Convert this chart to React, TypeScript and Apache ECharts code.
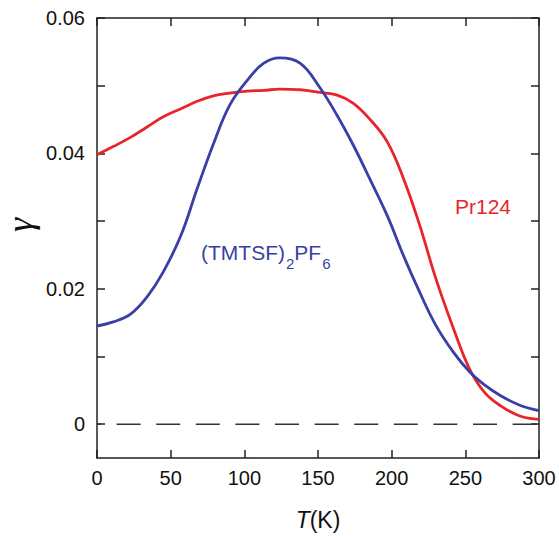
import React, { useEffect, useRef } from "react";
import * as echarts from "echarts";

// Temperature readings (K)
const temperature = [0, 11, 23, 34, 45, 57, 68, 79, 90, 102, 113, 124, 138, 151, 163, 174, 185, 197, 208, 219, 230, 242, 253, 263, 274, 287, 300];
// (TMTSF)2PF6
const tmtsfGamma = [0.0145, 0.0151, 0.0163, 0.0188, 0.0225, 0.0279, 0.0348, 0.0414, 0.0471, 0.0508, 0.0533, 0.0541, 0.0533, 0.0498, 0.0456, 0.0412, 0.0363, 0.0308, 0.0249, 0.0195, 0.0146, 0.0106, 0.0077, 0.0058, 0.0042, 0.0028, 0.002];
// Pr124
const prGamma = [0.0398, 0.041, 0.0424, 0.0439, 0.0454, 0.0466, 0.0477, 0.0485, 0.0489, 0.0492, 0.0493, 0.0495, 0.0494, 0.049, 0.0486, 0.0474, 0.0451, 0.0417, 0.0363, 0.0294, 0.0215, 0.0141, 0.0081, 0.0047, 0.0027, 0.0012, 0.0007];
// Axis ticks
const xTicks = [0, 50, 100, 150, 200, 250, 300];
const yTicks = [0, 0.01, 0.02, 0.03, 0.04, 0.05, 0.06];
const yLabels = [0, 0.02, 0.04, 0.06];
const zeroLine = [0, 300];

const BLUE = "#3a3fa6";
const RED = "#e8252b";
const AXIS = "#222";
const FONT = "'Liberation Sans', Arial, sans-serif";

export default function App() {
  const ref = useRef<HTMLDivElement>(null);
  useEffect(() => {
    if (!ref.current) return;
    const chart = echarts.init(ref.current, null, { renderer: "svg" });
    const tickStyle = { show: true, inside: true, length: 8, lineStyle: { color: AXIS, width: 1.5 } };
    const lineStyle = { show: true, onZero: false, lineStyle: { color: AXIS, width: 1.5 } };
    chart.setOption({
      animation: false,
      backgroundColor: "#fff",
      grid: { left: 97, right: 20, top: 18, bottom: 77, containLabel: false },
      xAxis: [
        {
          type: "value",
          min: 0,
          max: 300,
          interval: 50,
          position: "bottom",
          axisLine: lineStyle,
          axisTick: { ...tickStyle, customValues: xTicks },
          splitLine: { show: false },
          axisLabel: { customValues: xTicks, color: "#111", fontSize: 20, fontFamily: FONT, margin: 10 },
          name: "{i|T}(K)",
          nameLocation: "middle",
          nameGap: 50,
          nameTextStyle: {
            color: "#111",
            fontSize: 23,
            fontFamily: FONT,
            rich: { i: { fontStyle: "italic", fontSize: 23, fontFamily: FONT, color: "#111" } },
          },
        },
        {
          type: "value",
          min: 0,
          max: 300,
          interval: 50,
          position: "top",
          axisLine: lineStyle,
          axisTick: { ...tickStyle, customValues: xTicks },
          axisLabel: { show: false },
          splitLine: { show: false },
        },
      ],
      yAxis: [
        {
          type: "value",
          min: -0.005,
          max: 0.06,
          position: "left",
          axisLine: lineStyle,
          axisTick: { ...tickStyle, customValues: yTicks },
          splitLine: { show: false },
          axisLabel: {
            customValues: yLabels,
            color: "#111",
            fontSize: 20,
            fontFamily: FONT,
            margin: 12,
            formatter: (v: number) => (v === 0 ? "0" : v.toFixed(2)),
          },
        },
        {
          type: "value",
          min: -0.005,
          max: 0.06,
          position: "right",
          axisLine: lineStyle,
          axisTick: { ...tickStyle, customValues: yTicks },
          axisLabel: { show: false },
          splitLine: { show: false },
        },
      ],
      series: [
        {
          type: "line",
          name: "zero",
          data: zeroLine.map((t) => [t, 0]),
          symbol: "none",
          lineStyle: { color: "#333", width: 1.5, type: [24, 15.6], dashOffset: 19.9 },
          z: 1,
        },
        {
          type: "line",
          name: "(TMTSF)2PF6",
          data: temperature.map((t, i) => [t, tmtsfGamma[i]]),
          smooth: 0.4,
          symbol: "none",
          lineStyle: { color: BLUE, width: 2.8 },
          z: 3,
        },
        {
          type: "line",
          name: "Pr124",
          data: temperature.map((t, i) => [t, prGamma[i]]),
          smooth: 0.4,
          symbol: "none",
          lineStyle: { color: RED, width: 2.8 },
          z: 2,
        },
      ],
      graphic: [
        {
          type: "text",
          x: 20,
          y: 225,
          rotation: Math.PI / 2,
          style: {
            text: "γ",
            font: "italic 36px 'Liberation Serif', 'Times New Roman', serif",
            fill: "#111",
            textAlign: "center",
            textVerticalAlign: "middle",
          },
        },
        {
          type: "text",
          x: 455,
          y: 206,
          style: {
            text: "Pr124",
            fontSize: 21,
            fontFamily: FONT,
            fill: RED,
            textAlign: "left",
            textVerticalAlign: "middle",
          },
        },
        {
          type: "text",
          x: 201,
          y: 252,
          style: {
            text: "{m|(TMTSF)}{s|2}{m|PF}{s|6}",
            fill: BLUE,
            textAlign: "left",
            textVerticalAlign: "middle",
            rich: {
              m: { fontSize: 21, fontFamily: FONT, fill: BLUE, lineHeight: 24 },
              s: { fontSize: 15, fontFamily: FONT, fill: BLUE, padding: [22, 0, 0, 1] },
            },
          },
        },
      ],
    });
    return () => chart.dispose();
  }, []);
  return <div ref={ref} style={{ position: "fixed", left: 0, top: 0, width: 559, height: 536 }} />;
}
